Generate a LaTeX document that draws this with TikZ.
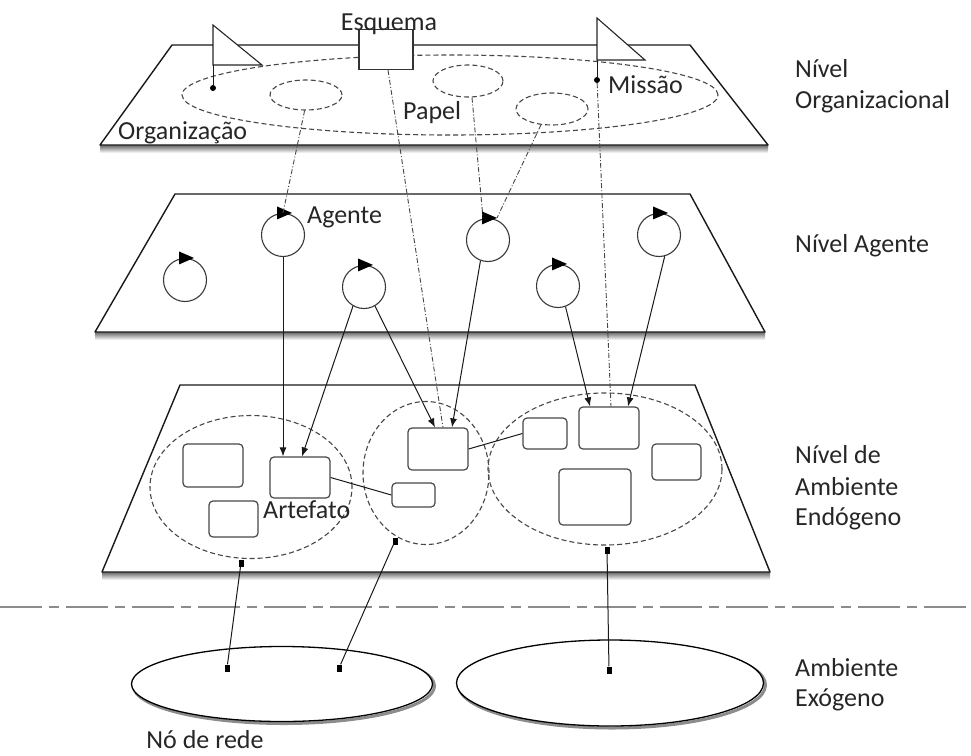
\documentclass[tikz,border=0pt]{standalone}
\usepackage{fontspec}
\setmainfont{Carlito}
\usetikzlibrary{arrows.meta,shapes.geometric,calc}
\begin{document}
\begin{tikzpicture}[x=1pt,y=-1pt,
  every node/.style={inner sep=0pt},
  plane/.style={draw=black!90,line width=1.4pt,fill=white,line join=round},
  shade/.style={top color=black!60,bottom color=white,draw=none},
  region/.style={ellipse,draw=black!72,line width=1.1pt,dash pattern=on 5pt off 3pt},
  agent/.style={circle,draw=black!78,line width=1.1pt,minimum size=43pt},
  artbox/.style={rectangle,rounded corners=4pt,draw=black!72,line width=1.2pt,fill=white},
  flagtri/.style={draw=black!85,line width=1.1pt,fill=white,line join=miter},
  link/.style={draw=black!90,line width=1pt},
  arr/.style={link,-{Latex[length=9pt,width=7pt]}},
  dashdot/.style={draw=black!72,line width=0.9pt,dash pattern=on 5pt off 2pt on 1pt off 2pt},
  enddot/.style={rectangle,fill=black,minimum width=5pt,minimum height=7pt},
  pindot/.style={circle,fill=black,minimum size=6pt},
  txt/.style={anchor=base west,font=\fontsize{26}{31}\selectfont,text=black!85},
  netnode/.style={ellipse,draw=black,line width=1.3pt,fill=white},
  netshadow/.style={ellipse,draw=black!45,line width=3pt},
  sepline/.style={draw=black!45,line width=2.5pt,dash pattern=on 42pt off 7pt on 10pt off 7pt}
]
\useasboundingbox (0,0) rectangle (971,755);

% ---------------- organisational level ----------------
\fill[shade] (100,145) rectangle (768,153);
\draw[plane] (172,45) -- (690,45) -- (768,145) -- (100,145) -- cycle;

\node[region,minimum width=536pt,minimum height=80pt] (org) at (450,95) {};
\node[region,minimum width=72pt,minimum height=30pt] (ellA) at (306,95) {};
\node[region,minimum width=70pt,minimum height=32pt] (ellB) at (468,81) {};
\node[region,minimum width=72pt,minimum height=32pt] (ellC) at (552,109) {};

% flags (missions) with their pins
\coordinate (f1) at (213,65);
\coordinate (f2) at (597,60);
\draw[flagtri] (213,25) -- (f1) -- (262,65) -- cycle;
\draw[flagtri] (597,18) -- (f2) -- (645,60) -- cycle;
\node[pindot] (p1) at (213,88) {};
\node[pindot] (p2) at (597,80) {};
\draw[link] (f1) -- (p1);
\draw[link] (f2) -- (p2);

% scheme box
\node[draw=black!80,line width=1.1pt,fill=white,minimum width=54pt,minimum height=40pt] (esq) at (386,49.5) {};
\node[txt,anchor=base] (esqlbl) at (389,30) {Esquema};

\node[txt] (orglbl) at (118,139) {Organização};
\node[txt] (papellbl) at (403,119) {Papel};
\node[txt] (missaolbl) at (608,93) {Missão};

% ---------------- agent level ----------------
\fill[shade] (95,332) rectangle (765,340);
\draw[plane] (175,194) -- (690,194) -- (765,332) -- (95,332) -- cycle;

\node[agent] (ag1) at (283,235) {};
\node[agent] (ag2) at (185,280) {};
\node[agent] (ag3) at (364,287) {};
\node[agent] (ag4) at (488,240) {};
\node[agent] (ag5) at (558,286) {};
\node[agent] (ag6) at (659,235) {};
\foreach \a in {ag1,ag2,ag3,ag4,ag5,ag6}
  \fill[black] ($(\a.north)+(-6,-6.5)$) -- ++(0,13) -- ++(15,-6.5) -- cycle;
\node[txt] (aglbl) at (307,223) {Agente};

% ---------------- endogenous environment level ----------------
\fill[shade] (102,572) rectangle (770,580);
\draw[plane] (180,385) -- (695,385) -- (770,572) -- (102,572) -- cycle;

\node[region,minimum width=202pt,minimum height=143pt] (regL) at (251,487) {};
\node[region,minimum width=126pt,minimum height=143pt] (regM) at (426,473) {};
\node[region,minimum width=234pt,minimum height=152pt] (regR) at (605,469) {};

\node[artbox,minimum width=60pt,minimum height=43pt] (b1) at (213,465.5) {};
\node[artbox,minimum width=60pt,minimum height=41pt] (art) at (300,477.5) {};
\node[artbox,minimum width=49pt,minimum height=36pt] (b3) at (233.5,519) {};
\node[artbox,minimum width=43pt,minimum height=24pt] (b4) at (413.5,495) {};
\node[artbox,minimum width=60pt,minimum height=42pt] (mid) at (438,449) {};
\node[artbox,minimum width=44pt,minimum height=31pt] (r1) at (545,433.5) {};
\node[artbox,minimum width=60pt,minimum height=42pt] (r2) at (609,428) {};
\node[artbox,minimum width=49pt,minimum height=36pt] (r3) at (676.5,462) {};
\node[artbox,minimum width=72pt,minimum height=56pt] (r4) at (595,497) {};
\node[txt] (artlbl) at (263,518) {Artefato};

\draw[link] (art.east) -- (b4.west);
\draw[link] (mid.east) -- (r1.west);

% ---------------- links between levels ----------------
\draw[dashdot] (ellA.265) -- (ag1.north);
\draw[dashdot] ($(ellB.south)+(4,0)$) -- ($(ag4.north)+(-5,0)$);
\draw[dashdot] (ellC.235) -- ($(ag4.north)+(9,0)$);
\draw[dashdot] ($(esq.south)+(2,0)$) -- ($(mid.north)+(5,0)$);
\draw[dashdot] (p2) -- ($(r2.north)+(2,0)$);

\draw[arr] (ag1.south) -- (ag1.south |- art.north);
\draw[arr] (ag3.240) -- ($(art.north)+(2,0)$);
\draw[arr] (ag3.300) -- ($(mid.north)+(-3,0)$);
\draw[arr] (ag4.250) -- ($(mid.north)+(14,0)$);
\draw[arr] (ag5.290) -- ($(r2.north)+(-19,0)$);
\draw[arr] (ag6.285) -- ($(r2.north)+(19,0)$);

% ---------------- separator ----------------
\coordinate (sepL) at (0,607);
\coordinate (sepR) at (971,607);
\draw[sepline] (sepL) -- (sepR);

% ---------------- exogenous environment ----------------
\node[netshadow,minimum width=301pt,minimum height=75pt] (exLs) at (284,686) {};
\node[netshadow,minimum width=307pt,minimum height=86pt] (exRs) at (612,685) {};
\node[netnode,minimum width=301pt,minimum height=75pt] (exL) at (282,684) {};
\node[netnode,minimum width=307pt,minimum height=86pt] (exR) at (610,683) {};

\node[enddot] (dL) at (241,563) {};
\node[enddot] (dM) at (395,541) {};
\node[enddot] (dR) at (607,550) {};
\node[enddot] (xL1) at (227,668) {};
\node[enddot] (xL2) at (339,668) {};
\node[enddot] (xR) at (609,670) {};
\draw[link] (dL) -- (xL1);
\draw[link] (dM) -- (xL2);
\draw[link] (dR) -- (xR);

\node[txt,anchor=base] (nolbl) at (205,748) {Nó de rede};

% ---------------- level captions ----------------
\node[txt] (lv1a) at (795,77) {Nível};
\node[txt] (lv1b) at (795,108) {Organizacional};
\node[txt] (lv2) at (795,252) {Nível Agente};
\node[txt] (lv3a) at (795,463) {Nível de};
\node[txt] (lv3b) at (795,495) {Ambiente};
\node[txt] (lv3c) at (795,525) {Endógeno};
\node[txt] (lv4a) at (795,676) {Ambiente};
\node[txt] (lv4b) at (795,706) {Exógeno};
\end{tikzpicture}
\end{document}
